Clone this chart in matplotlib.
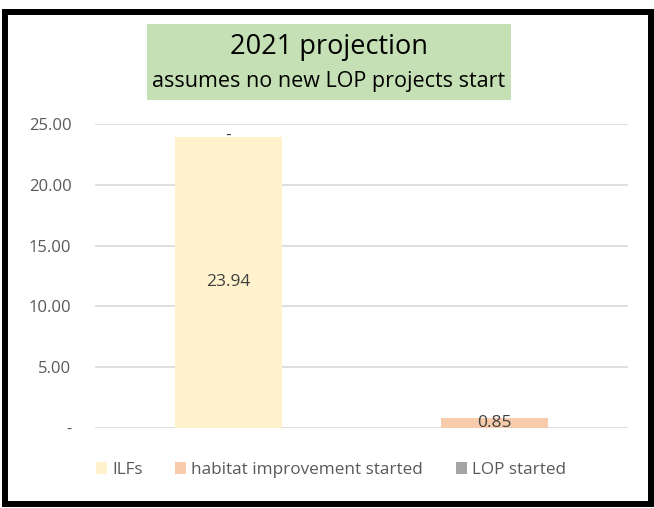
import matplotlib.pyplot as plt
from matplotlib.patches import Rectangle
import numpy as np

plt.rcParams['font.family'] = ['Open Sans', 'DejaVu Sans']

categories = ['A', 'B']
ilfs = [23.94, 0.0]
habitat = [0.0, 0.85]
lop = [0.0, 0.0]
series_names = ['ILFs', 'habitat improvement started', 'LOP started']
colors = ['#FFF2CC', '#F8CBAD', '#A5A5A5']
yticks = [0, 5, 10, 15, 20, 25]

def fmt(v):
    return '-' if v == 0 else '%.2f' % v

fig = plt.figure(figsize=(6.54, 5.08), dpi=100)
ax = fig.add_axes([0.1453, 0.1575, 0.8147, 0.5984])

x = np.arange(len(categories))
w = 0.40
bottom = np.zeros(len(categories))
bars = []
for vals, name, c in zip([ilfs, habitat, lop], series_names, colors):
    b = ax.bar(x, vals, w, bottom=bottom, color=c, label=name, zorder=2)
    bars.append(b)
    bottom = bottom + np.array(vals)

# data labels
lab = dict(ha='center', va='center', fontsize=12.5, color='#404040', zorder=3)
ax.text(x[0], ilfs[0] / 2, fmt(ilfs[0]), **lab)
ax.text(x[0], ilfs[0] + habitat[0] + 0.1, fmt(habitat[0]), **lab)
ax.text(x[1], ilfs[1] + habitat[1] / 2, fmt(habitat[1]), **lab)

ax.set_xlim(-0.5, 1.5)
ax.set_ylim(0, 25)
ax.set_yticks(yticks)
ax.set_yticklabels(['-' if t == 0 else '%.2f' % t for t in yticks])
ax.tick_params(axis='y', length=0, pad=17, labelsize=12, labelcolor='#595959')
ax.set_xticks([])
ax.grid(axis='y', color='#D9D9D9', linewidth=1.2, zorder=0)
for s in ax.spines.values():
    s.set_visible(False)

leg = fig.legend(handles=bars, labels=series_names, loc='center',
                 bbox_to_anchor=(0.506, 1 - 470 / 508), ncol=3, frameon=False,
                 fontsize=12.3, handlelength=0.65, handleheight=0.65,
                 handletextpad=0.3, columnspacing=1.9)
for t in leg.get_texts():
    t.set_color('#595959')

# title box
fig.patches.append(Rectangle((147 / 654, 1 - 100 / 508), 364 / 654, 76 / 508,
                             transform=fig.transFigure, facecolor='#C5E0B4',
                             edgecolor='none', zorder=0))
fig.text(329 / 654, 1 - 47 / 508, '2021 projection', ha='center', va='center',
         fontsize=19.5, color='black')
fig.text(329 / 654, 1 - 82 / 508, 'assumes no new LOP projects start', ha='center',
         va='center', fontsize=15.5, color='black')

# outer border
fig.patches.append(Rectangle((5.5 / 654, 1 - 504 / 508), 645 / 654, 492 / 508,
                             transform=fig.transFigure, facecolor='none',
                             edgecolor='black', linewidth=4.3, zorder=5))

fig.savefig('out.png', dpi=100)
